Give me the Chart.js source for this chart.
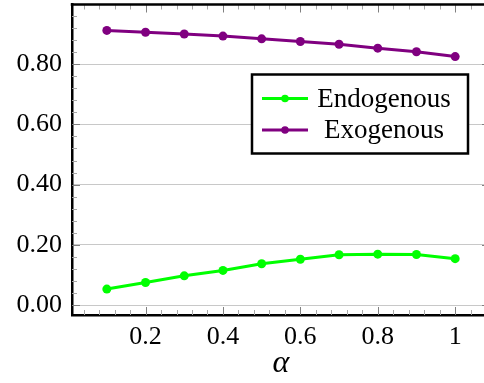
<!DOCTYPE html>
<html>
<head>
<meta charset="utf-8">
<script src="https://cdn.jsdelivr.net/npm/chart.js@4"></script>
<style>
  html, body { margin: 0; padding: 0; background: #fff; overflow: hidden; }
  #wrap { width: 500px; height: 383px; }
</style>
</head>
<body>
<div id="wrap"><canvas id="shareChart"></canvas></div>
<script>
const alpha = [0.1, 0.2, 0.3, 0.4, 0.5, 0.6, 0.7, 0.8, 0.9, 1.0];
const endogenous = [0.053, 0.075, 0.097, 0.115, 0.137, 0.152, 0.167, 0.169, 0.168, 0.154];
const exogenous = [0.912, 0.906, 0.900, 0.893, 0.884, 0.875, 0.866, 0.853, 0.841, 0.825];
const xTicks = [0.2, 0.4, 0.6, 0.8, 1];
const xTickLabels = ['0.2', '0.4', '0.6', '0.8', '1'];
const yTicks = [0, 0.2, 0.4, 0.6, 0.8];
const yTickLabels = ['0.00', '0.20', '0.40', '0.60', '0.80'];

const serif = '"Liberation Serif", "DejaVu Serif", serif';

// inward major/minor ticks on all four sides, plus the top frame line
const frameTicks = {
  id: 'frameTicks',
  afterDraw(chart) {
    const { ctx, chartArea: a, scales: { x, y } } = chart;
    ctx.save();
    ctx.lineWidth = 1;
    const tick = (x1, y1, x2, y2, color) => {
      ctx.strokeStyle = color;
      ctx.beginPath();
      ctx.moveTo(x1, y1);
      ctx.lineTo(x2, y2);
      ctx.stroke();
    };
    for (let i = 1; i * 0.04 < x.max; i++) {
      const v = i * 0.04;
      if (v < x.min) continue;
      const major = i % 5 === 0;
      const len = major ? 8 : 5;
      const c = major ? '#808080' : '#a8a8a8';
      const px = Math.round(x.getPixelForValue(v)) + 0.5;
      tick(px, a.bottom, px, a.bottom - len, c);
      tick(px, a.top, px, a.top + len, c);
    }
    for (let i = 0; i * 0.04 < y.max; i++) {
      const v = i * 0.04;
      const major = i % 5 === 0;
      const len = major ? 8 : 5;
      const c = major ? '#808080' : '#a8a8a8';
      const py = Math.round(y.getPixelForValue(v)) + 0.5;
      tick(a.left, py, a.left + len, py, c);
      tick(a.right, py, a.right - len, py, c);
    }
    ctx.strokeStyle = '#000';
    ctx.lineWidth = 2.5;
    ctx.beginPath();
    ctx.moveTo(a.left - 1.25, a.top);
    ctx.lineTo(a.right + 1.25, a.top);
    ctx.lineTo(a.right, a.bottom);
    ctx.stroke();
    ctx.restore();
  }
};

// boxed legend inside the plot, labels centred in their column
const boxLegend = {
  id: 'boxLegend',
  afterDraw(chart) {
    const { ctx, chartArea: a } = chart;
    const w = 216, h = 79;
    const left = a.right - 22 - w;
    const top = a.top + 70;
    ctx.save();
    ctx.fillStyle = '#fff';
    ctx.fillRect(left, top, w, h);
    ctx.strokeStyle = '#000';
    ctx.lineWidth = 2.5;
    ctx.strokeRect(left, top, w, h);
    ctx.font = '27px ' + serif;
    ctx.textAlign = 'center';
    ctx.textBaseline = 'middle';
    chart.data.datasets.forEach((ds, i) => {
      const cy = top + 24 + i * 31.5;
      ctx.strokeStyle = ds.borderColor;
      ctx.lineWidth = 3;
      ctx.beginPath();
      ctx.moveTo(left + 10, cy);
      ctx.lineTo(left + 56, cy);
      ctx.stroke();
      ctx.fillStyle = ds.borderColor;
      ctx.beginPath();
      ctx.arc(left + 33, cy, 3.8, 0, Math.PI * 2);
      ctx.fill();
      ctx.fillStyle = '#000';
      ctx.fillText(ds.label, left + 132, cy + 1);
    });
    ctx.restore();
  }
};

new Chart(document.getElementById('shareChart'), {
  type: 'line',
  data: {
    datasets: [
      {
        label: 'Endogenous',
        data: alpha.map((a, i) => ({ x: a, y: endogenous[i] })),
        borderColor: '#00ff00',
        backgroundColor: '#00ff00'
      },
      {
        label: 'Exogenous',
        data: alpha.map((a, i) => ({ x: a, y: exogenous[i] })),
        borderColor: '#800080',
        backgroundColor: '#800080'
      }
    ]
  },
  plugins: [frameTicks, boxLegend],
  options: {
    responsive: true,
    maintainAspectRatio: false,
    animation: false,
    layout: { padding: { top: 4.5, right: 10, left: 0, bottom: 0 } },
    elements: {
      line: { borderWidth: 3, tension: 0 },
      point: { radius: 4.5, borderWidth: 0, hoverRadius: 4.5 }
    },
    plugins: {
      legend: { display: false },
      tooltip: { enabled: false }
    },
    scales: {
      x: {
        type: 'linear',
        min: 0.01,
        max: 1.09,
        afterFit: s => {
          s.height = 68;
          s.paddingLeft = 0;
          s.paddingRight = 0;
        },
        afterBuildTicks: s => { s.ticks = xTicks.map(v => ({ value: v })); },
        grid: { display: false, drawTicks: false },
        border: { display: true, color: '#000', width: 2.5 },
        ticks: {
          padding: 7,
          color: '#000',
          font: { family: serif, size: 26 },
          maxRotation: 0,
          callback: (v, i) => xTickLabels[i]
        },
        title: {
          display: true,
          text: 'α',
          color: '#000',
          padding: { top: 0, bottom: 0 },
          font: { family: serif, size: 32, style: 'italic' }
        }
      },
      y: {
        min: -0.033,
        max: 0.998,
        afterFit: s => {
          s.width = 72;
          s.paddingTop = 0;
          s.paddingBottom = 0;
        },
        afterBuildTicks: s => { s.ticks = yTicks.map(v => ({ value: v })); },
        grid: { color: '#c8c8c8', lineWidth: 1, drawTicks: false },
        border: { display: true, color: '#000', width: 2.5 },
        ticks: {
          padding: 10,
          color: '#000',
          font: { family: serif, size: 26 },
          callback: (v, i) => yTickLabels[i]
        }
      }
    }
  }
});
</script>
</body>
</html>
